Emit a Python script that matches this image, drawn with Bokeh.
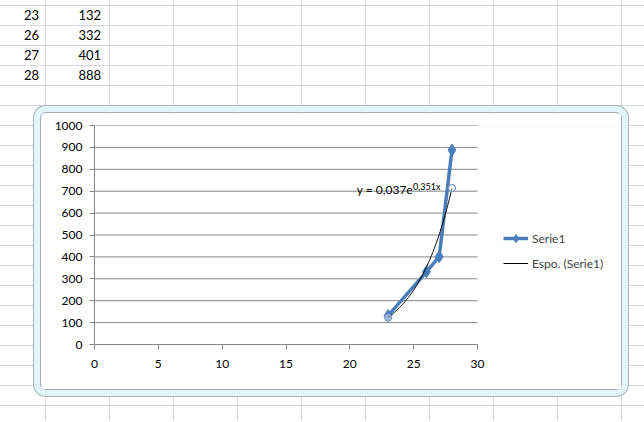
import numpy as np
from bokeh.plotting import figure
from bokeh.layouts import column
from bokeh.models import Range1d, Legend, LegendItem, Label, Div, FixedTicker
from bokeh.embed import file_html
from bokeh.resources import INLINE

# ---- data ----
x_vals = [23, 26, 27, 28]
y_vals = [132, 332, 401, 888]
series_name = "Serie1"
trend_name = "Espo. (Serie1)"
eq_main = "y = 0,037e"
eq_sup = "0,351x"
x_ticks = [0, 5, 10, 15, 20, 25, 30]
y_ticks = [0, 100, 200, 300, 400, 500, 600, 700, 800, 900, 1000]

BLUE = "#4A7EBB"
GRAY = "#868686"
FONT = "Lato"

# exponential trendline (least squares on log y, as Excel does)
b, ln_a = np.polyfit(np.array(x_vals, float), np.log(np.array(y_vals, float)), 1)
a = np.exp(ln_a)
tx = np.linspace(min(x_vals), max(x_vals), 120)
ty = a * np.exp(b * tx)

# layout geometry (pixels)
FIG_W, FIG_H = 580, 276
BORDER_L, BORDER_T, BORDER_B = 53, 12, 45
PLOT_W = 383                      # width of the 0..30 plotting area
FRAME_W = FIG_W - BORDER_L        # frame extends to the right edge (legend lives there)
x_lo, x_hi = x_ticks[0], x_ticks[-1]
x_end = x_lo + (x_hi - x_lo) * FRAME_W / PLOT_W

p = figure(width=FIG_W, height=FIG_H, output_backend="svg", toolbar_location=None,
           x_range=Range1d(x_lo, x_end), y_range=Range1d(y_ticks[0], y_ticks[-1]),
           min_border_left=BORDER_L, min_border_right=0,
           min_border_top=BORDER_T, min_border_bottom=BORDER_B)
p.outline_line_color = None
p.background_fill_color = "white"
p.border_fill_color = "white"

p.xgrid.visible = False
p.ygrid.visible = False
# horizontal gridlines limited to the 0..30 span
p.segment(x0=[x_lo] * len(y_ticks), x1=[x_hi] * len(y_ticks), y0=y_ticks, y1=y_ticks,
          line_color=GRAY, line_width=1)

for ax in (p.xaxis[0], p.yaxis[0]):
    ax.axis_line_color = GRAY
    ax.major_tick_line_color = GRAY
    ax.major_tick_out = 5
    ax.major_tick_in = 0
    ax.minor_tick_line_color = None
    ax.major_label_text_font = FONT
    ax.major_label_text_font_size = "12px"
    ax.major_label_text_color = "black"
p.xaxis[0].ticker = FixedTicker(ticks=x_ticks)
p.xaxis[0].bounds = (x_lo, x_hi)
p.yaxis[0].ticker = FixedTicker(ticks=y_ticks)
p.xaxis[0].major_label_standoff = 10
p.yaxis[0].major_label_standoff = 7

r_line = p.line(x_vals, y_vals, line_color=BLUE, line_width=3.5)
r_pts = p.scatter(x_vals, y_vals, marker="diamond", size=12, fill_color=BLUE, line_color=BLUE)
r_trend = p.line(tx, ty, line_color="black", line_width=1)
p.scatter([tx[0], tx[-1]], [ty[0], ty[-1]], marker="circle", size=7,
          fill_color="white", fill_alpha=0.45, line_color="#7d9ccc", line_width=1.3)

p.add_layout(Label(x=tx[-1], y=ty[-1], x_offset=-39, y_offset=-1, text=eq_main,
                   text_align="right", text_baseline="alphabetic",
                   text_font=FONT, text_font_size="12px", text_color="black"))
p.add_layout(Label(x=tx[-1], y=ty[-1], x_offset=-39, y_offset=2, text=eq_sup,
                   text_align="left", text_baseline="alphabetic",
                   text_font=FONT, text_font_size="9px", text_color="black"))

legend = Legend(items=[LegendItem(label=series_name, renderers=[r_line, r_pts]),
                       LegendItem(label=trend_name, renderers=[r_trend])],
                location=(409, 71), padding=0, margin=0, spacing=5,
                glyph_width=25, glyph_height=20, label_standoff=4,
                border_line_color=None, background_fill_alpha=0,
                label_text_font=FONT, label_text_font_size="12px")
p.add_layout(legend, "center")

p.styles = {"border-radius": "5px",
            "box-shadow": "0 0 0 1px #a3acb4, 0 0 0 7px #e2f5f8, 0 0 0 8px #a7b2b9"}
p.margin = (8, 0, 31, 41)

rows = "".join(
    f"<tr><td style='width:41px;height:20px;text-align:right;padding:0 2px 0 0;'>{xv}</td>"
    f"<td style='width:62px;height:20px;text-align:right;padding:0 2px 0 0;'>{yv}</td></tr>"
    for xv, yv in zip(x_vals, y_vals))
html = (f"<table style='border-collapse:collapse;margin-top:5px;font-family:{FONT};"
        f"font-size:13px;line-height:20px;color:#000;'>{rows}</table>")
div = Div(text=html, width=644, height=105, margin=(0, 0, 0, 0))

grid_bg = ("linear-gradient(to right, #d4d8df 1px, transparent 1px), "
           "linear-gradient(to bottom, #d4d8df 1px, transparent 1px)")
layout = column(div, p, spacing=0)
layout.styles = {"background-image": grid_bg, "background-size": "64px 20px",
                 "background-position": "45px 5px", "background-color": "white"}

open("out.html", "w").write(file_html(layout, INLINE))
